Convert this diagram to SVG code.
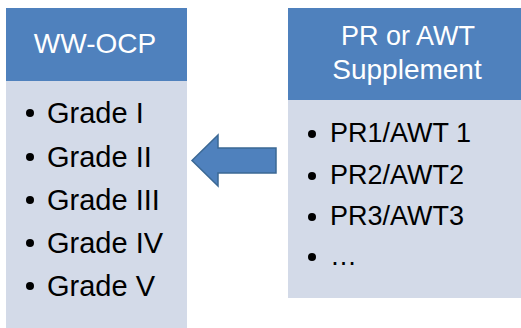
<svg xmlns="http://www.w3.org/2000/svg" width="521" height="328" viewBox="0 0 521 328">
<style>
.hdr{fill:#4f81bd}
.body{fill:#d3dae8}
.ht{font-family:"Liberation Sans",Arial,sans-serif;fill:#ffffff;text-anchor:middle}
.it{font-family:"Liberation Sans",Arial,sans-serif;fill:#000000}
.bl{fill:#000000}
.arrow{fill:#4f81bd;stroke:#3b6894;stroke-width:1.5;stroke-linejoin:miter}
</style>
<rect width="521" height="328" fill="#ffffff"/>
<g id="ww-ocp">
<rect class="hdr" x="6" y="8" width="181" height="73"/>
<rect class="body" x="6" y="81" width="181" height="247"/>
<text class="ht" x="95" y="53" font-size="28">WW-OCP</text>
<circle class="bl" cx="30" cy="113" r="4"/>
<circle class="bl" cx="30" cy="157" r="4"/>
<circle class="bl" cx="30" cy="200" r="4"/>
<circle class="bl" cx="30" cy="243" r="4"/>
<circle class="bl" cx="30" cy="286" r="4"/>
<text class="it" x="47" y="123" font-size="29">Grade I</text>
<text class="it" x="47" y="167" font-size="29">Grade II</text>
<text class="it" x="47" y="210" font-size="29">Grade III</text>
<text class="it" x="47" y="253" font-size="29">Grade IV</text>
<text class="it" x="47" y="296" font-size="29">Grade V</text>
</g>
<g id="pr-awt">
<rect class="hdr" x="288" y="8" width="233" height="92"/>
<rect class="body" x="288" y="100" width="233" height="198"/>
<text class="ht" x="408" y="45" font-size="27">PR or AWT</text>
<text class="ht" x="407" y="79" font-size="28">Supplement</text>
<circle class="bl" cx="312" cy="134" r="4"/>
<circle class="bl" cx="312" cy="176" r="4"/>
<circle class="bl" cx="312" cy="217" r="4"/>
<circle class="bl" cx="312" cy="257" r="4"/>
<text class="it" x="330" y="142" font-size="27">PR1/AWT 1</text>
<text class="it" x="330" y="184" font-size="27">PR2/AWT2</text>
<text class="it" x="330" y="225" font-size="27">PR3/AWT3</text>
<text class="it" x="330" y="265" font-size="27">…</text>
</g>
<g id="connectors">
<polygon class="arrow" points="192,160.5 218,135 218,148 276,148 276,173 218,173 218,186"/>
</g>
</svg>
